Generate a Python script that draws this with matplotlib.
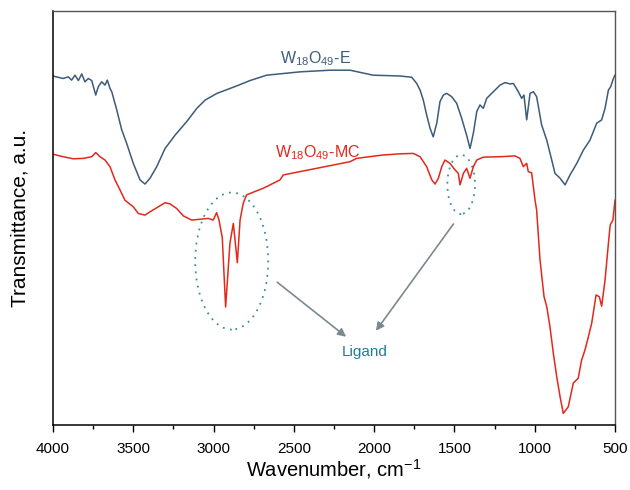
import numpy as np
import matplotlib
matplotlib.use("Agg")
import matplotlib.pyplot as plt
from matplotlib.patches import Ellipse
from matplotlib.ticker import MultipleLocator

plt.rcParams["font.family"] = ["Liberation Sans", "DejaVu Sans"]
plt.rcParams["mathtext.fontset"] = "custom"
plt.rcParams["mathtext.rm"] = "Liberation Sans"

# FTIR spectra, transmittance in arbitrary units
wn_e = [4000, 3970, 3936, 3905, 3884, 3863, 3842, 3821, 3801, 3780, 3759, 3734,
        3718, 3697, 3676, 3662, 3645, 3634, 3603, 3572, 3541, 3500, 3458, 3427,
        3396, 3354, 3302, 3240, 3167, 3104, 3052, 2979, 2856, 2773, 2669, 2462,
        2275, 2150, 2007, 1839, 1766, 1735, 1714, 1694, 1673, 1652, 1632, 1610,
        1590, 1569, 1548, 1517, 1486, 1455, 1424, 1403, 1382, 1361, 1341, 1320,
        1299, 1268, 1216, 1185, 1154, 1133, 1102, 1081, 1067, 1050, 1029, 1008,
        988, 957, 925, 894, 874, 842, 811, 780, 738, 697, 656, 614, 583, 562,
        541, 527, 510, 500]
t_e = [84.3, 84.0, 83.7, 84.1, 83.3, 84.5, 83.2, 84.8, 82.9, 83.7, 83.2, 79.7,
       81.7, 82.9, 82.1, 83.3, 81.3, 80.5, 76.1, 71.3, 68.0, 63.2, 59.2, 58.2,
       59.6, 62.4, 66.8, 70.0, 73.3, 76.5, 78.5, 80.1, 81.9, 83.2, 84.5, 85.3,
       85.7, 85.7, 84.5, 84.3, 84.0, 82.5, 80.9, 78.5, 74.9, 71.7, 69.6, 72.9,
       78.1, 79.7, 80.1, 79.3, 77.7, 74.1, 70.0, 66.8, 70.5, 75.7, 77.3, 76.5,
       78.9, 80.1, 82.1, 82.7, 82.4, 82.5, 80.5, 78.9, 79.7, 73.7, 80.1, 80.5,
       79.3, 72.5, 68.8, 64.0, 60.8, 59.6, 58.0, 60.4, 63.2, 66.4, 68.8, 72.9,
       73.7, 76.5, 80.9, 81.7, 83.7, 84.5]

wn_mc = [4000, 3936, 3874, 3811, 3759, 3734, 3707, 3676, 3645, 3614, 3583, 3552,
         3500, 3469, 3427, 3396, 3344, 3302, 3271, 3230, 3188, 3136, 3085, 3033,
         3002, 2981, 2966, 2949, 2946, 2925, 2898, 2877, 2852, 2835, 2815, 2794,
         2690, 2586, 2566, 2358, 2150, 2109, 1950, 1839, 1756, 1714, 1673, 1641,
         1621, 1600, 1579, 1559, 1528, 1496, 1476, 1465, 1444, 1424, 1403, 1382,
         1361, 1320, 1216, 1123, 1092, 1071, 1050, 1040, 1019, 998, 988, 967,
         942, 925, 905, 884, 863, 842, 822, 791, 760, 729, 708, 687, 666, 645,
         618, 598, 583, 562, 541, 530, 513, 500]
t_mc = [65.4, 64.8, 64.3, 64.4, 64.8, 65.8, 64.8, 64.0, 62.4, 59.2, 56.8, 54.3,
        52.7, 51.1, 50.7, 51.5, 52.7, 53.7, 53.4, 52.3, 50.5, 49.5, 49.7, 49.9,
        49.5, 51.3, 49.5, 45.9, 45.4, 28.5, 43.9, 48.7, 39.2, 49.5, 53.6, 55.6,
        57.2, 59.2, 60.4, 62.0, 63.6, 64.4, 65.2, 65.5, 65.6, 64.8, 62.4, 59.2,
        58.2, 59.6, 62.4, 64.0, 63.2, 61.6, 60.8, 58.0, 60.8, 62.0, 59.6, 62.4,
        64.0, 64.7, 64.8, 65.0, 64.4, 62.4, 63.2, 61.2, 60.9, 54.3, 51.9, 39.9,
        31.0, 28.6, 23.7, 17.3, 11.7, 6.8, 2.8, 4.4, 10.1, 11.3, 15.7, 18.1,
        21.3, 24.6, 31.4, 31.0, 28.7, 35.0, 43.9, 48.3, 49.5, 54.3]

BLUE = "#3d5b7a"
RED = "#e3281c"
TEAL = "#3a8ea0"
ARROW = "#7a8a8e"

fig = plt.figure(figsize=(6.3, 4.9), dpi=100)
ax = fig.add_axes([53 / 630, 65 / 490, 562 / 630, 414 / 490])

ax.plot(wn_e, t_e, color=BLUE, lw=1.1)
ax.plot(wn_mc, t_mc, color=RED, lw=1.1)

ax.set_xlim(4000, 500)
ax.set_ylim(0, 100)
ax.xaxis.set_major_locator(MultipleLocator(500))
ax.xaxis.set_minor_locator(MultipleLocator(250))
ax.set_yticks([])
ax.tick_params(axis="x", which="major", direction="out", length=5, width=1,
               labelsize=11, pad=7)
ax.tick_params(axis="x", which="minor", direction="out", length=3, width=1)
for side in ("left", "bottom"):
    ax.spines[side].set_linewidth(1.1)
for side in ("top", "right"):
    ax.spines[side].set_color("#555555")
    ax.spines[side].set_linewidth(1.0)

ax.set_xlabel("Wavenumber, cm$^{\u22121}$", fontsize=14.5, labelpad=1)
ax.set_ylabel("Transmittance, a.u.", fontsize=15)
ax.yaxis.set_label_coords(-0.041, 0.5)

ax.text(2368, 88.6, "W$_{18}$O$_{49}$-E", color=BLUE, fontsize=11.5,
        ha="center", va="center")
ax.text(2350, 65.9, "W$_{18}$O$_{49}$-MC", color=RED, fontsize=11.5,
        ha="center", va="center")

# ligand bands
ax.add_patch(Ellipse((2887, 39.6), 455, 33.1, fill=False, ls=(0, (1, 3)),
                     lw=1.3, edgecolor=TEAL))
ax.add_patch(Ellipse((1458, 58.1), 172, 14.3, fill=False, ls=(0, (1, 3)),
                     lw=1.3, edgecolor=TEAL))
ax.annotate("", xy=(2161, 20.9), xytext=(2617, 34.9),
            arrowprops=dict(arrowstyle="-|>", color=ARROW, lw=1.2,
                            mutation_scale=12))
ax.annotate("", xy=(1999, 22.2), xytext=(1496, 49.1),
            arrowprops=dict(arrowstyle="-|>", color=ARROW, lw=1.2,
                            mutation_scale=12))
ax.text(2057, 17.7, "Ligand", color="#1f7f96", fontsize=11,
        ha="center", va="center")

fig.savefig("out.png", dpi=100)
